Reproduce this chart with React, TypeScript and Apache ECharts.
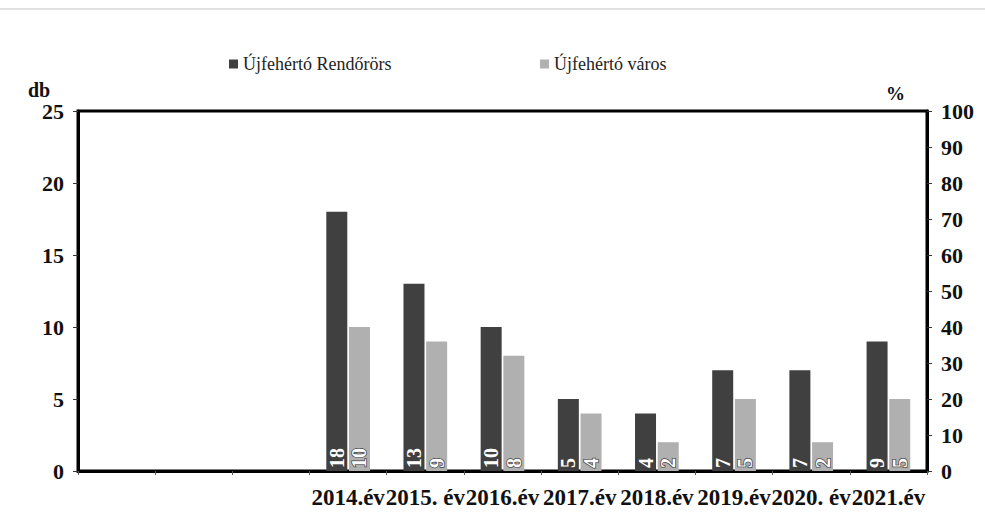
import React, { useEffect, useRef } from "react";
import * as echarts from "echarts";

const categories = ["", "", "", "2014.év", "2015. év", "2016.év", "2017.év", "2018.év", "2019.év", "2020. év", "2021.év"];
const rendororsValues = [null, null, null, 18, 13, 10, 5, 4, 7, 7, 9];
const varosValues = [null, null, null, 10, 9, 8, 4, 2, 5, 2, 5];
const seriesNames = ["Újfehértó Rendőrörs", "Újfehértó város"];
const leftAxisName = "db";
const rightAxisName = "%";

const FONT = "'Liberation Serif', 'Times New Roman', serif";

export default function App() {
  const ref = useRef<HTMLDivElement>(null);
  useEffect(() => {
    if (!ref.current) return;
    const chart = echarts.init(ref.current, null, { renderer: "svg" });
    const labelCommon = {
      show: true,
      position: "insideBottom" as const,
      rotate: 90,
      align: "left" as const,
      verticalAlign: "middle" as const,
      distance: 3,
      fontFamily: FONT,
      fontWeight: "bold" as const,
      fontSize: 20,
      color: "#ffffff",
    };
    chart.setOption({
      animation: false,
      backgroundColor: "#ffffff",
      grid: {
        left: 78,
        right: 58,
        top: 111,
        bottom: 41,
        show: true,
        borderColor: "#000",
        borderWidth: 3,
        backgroundColor: "transparent",
      },
      legend: [
        {
          data: [seriesNames[0]],
          left: 224,
          top: 50,
          icon: "rect",
          itemWidth: 9,
          itemHeight: 9,
          itemGap: 4,
          textStyle: { fontFamily: FONT, fontSize: 18, color: "#222" },
        },
        {
          data: [seriesNames[1]],
          left: 535,
          top: 50,
          icon: "rect",
          itemWidth: 9,
          itemHeight: 9,
          textStyle: { fontFamily: FONT, fontSize: 18, color: "#222" },
        },
      ],
      xAxis: {
        type: "category",
        data: categories,
        axisLine: { show: true, lineStyle: { color: "#000", width: 3 } },
        axisTick: { show: true, alignWithLabel: false, length: 4, lineStyle: { color: "#555", width: 1 } },
        axisLabel: {
          interval: 0,
          margin: 15,
          fontFamily: FONT,
          fontWeight: "bold",
          fontSize: 23,
          color: "#111",
          hideOverlap: false,
        },
        splitLine: { show: false },
      },
      yAxis: [
        {
          type: "value",
          min: 0,
          max: 25,
          interval: 5,
          position: "left",
          axisLine: { show: true, lineStyle: { color: "#000", width: 3 } },
          axisTick: { show: true, length: 5, lineStyle: { color: "#333", width: 1 } },
          axisLabel: { margin: 14, fontFamily: FONT, fontWeight: "bold", fontSize: 22, color: "#111" },
          splitLine: { show: false },
        },
        {
          type: "value",
          min: 0,
          max: 100,
          interval: 10,
          position: "right",
          axisLine: { show: true, lineStyle: { color: "#000", width: 3 } },
          axisTick: { show: true, length: 5, lineStyle: { color: "#333", width: 1 } },
          axisLabel: { margin: 14, fontFamily: FONT, fontWeight: "bold", fontSize: 22, color: "#111" },
          splitLine: { show: false },
        },
      ],
      series: [
        {
          name: seriesNames[0],
          type: "bar",
          yAxisIndex: 0,
          data: rendororsValues,
          barWidth: 21,
          barGap: "8%",
          itemStyle: { color: "#404040" },
          label: { ...labelCommon },
        },
        {
          name: seriesNames[1],
          type: "bar",
          yAxisIndex: 0,
          data: varosValues,
          barWidth: 21,
          itemStyle: { color: "#b0b0b0" },
          label: { ...labelCommon, textBorderColor: "#444", textBorderWidth: 1.5 },
        },
      ],
      graphic: [
        {
          type: "line",
          shape: { x1: 0, y1: 9, x2: 985, y2: 9 },
          style: { stroke: "#e2e2e2", lineWidth: 2 },
        },
        {
          type: "text",
          left: 28,
          top: 80,
          style: { text: leftAxisName, fontFamily: FONT, fontWeight: "bold", fontSize: 20, fill: "#111" },
        },
        {
          type: "text",
          left: 886,
          top: 84,
          style: { text: rightAxisName, fontFamily: FONT, fontWeight: "bold", fontSize: 19, fill: "#111" },
        },
      ],
    });
    return () => chart.dispose();
  }, []);
  return <div ref={ref} style={{ position: "absolute", left: 0, top: 0, width: 985, height: 512 }} />;
}
